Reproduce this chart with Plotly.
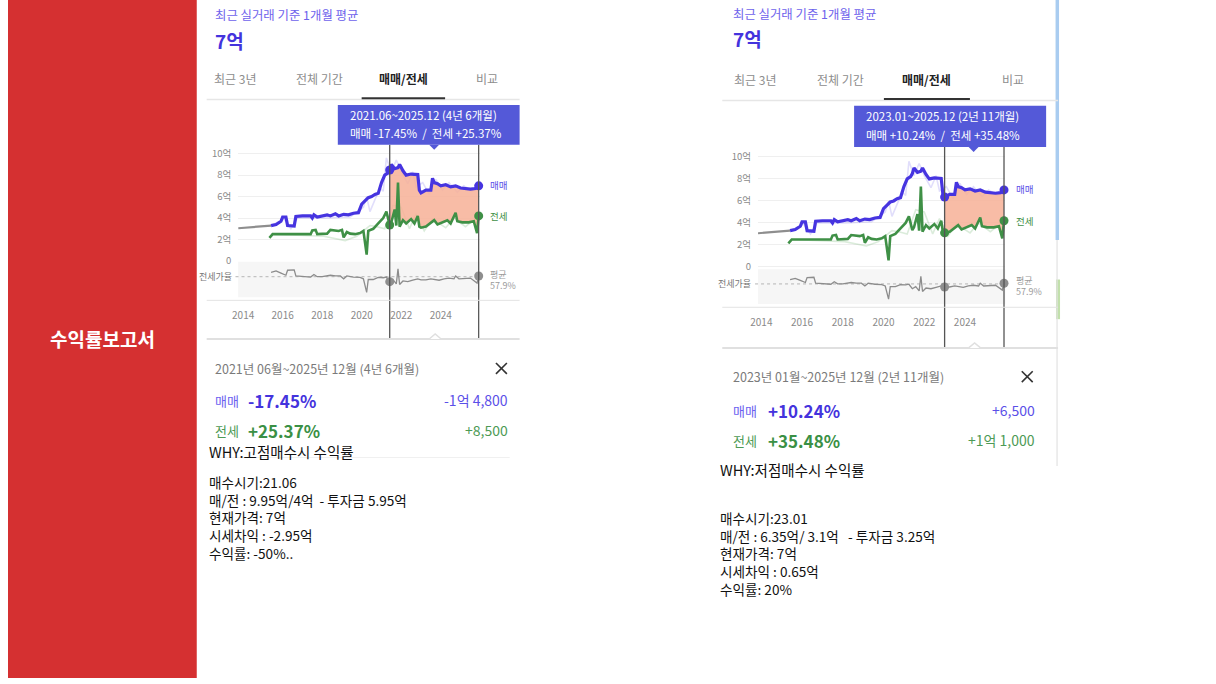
import plotly.graph_objects as go
from datetime import datetime, timedelta

W, H = 1216, 684
FONT = 'Noto Sans CJK KR'

# ---- data (price in 억, ratio in %) ----
pre_dates = ['2013-10', '2014-01', '2014-04', '2014-07', '2014-10', '2015-01', '2015-04', '2015-06']
pre_vals = [3.05, 3.08, 3.12, 3.15, 3.18, 3.2, 3.25, 3.3]

sale_dates = ['2015-06', '2015-09', '2015-12', '2016-01', '2016-03', '2016-04', '2016-08', '2016-09',
              '2017-01', '2017-06', '2017-07', '2017-08', '2017-10', '2018-01', '2018-04', '2018-06',
              '2018-09', '2018-11', '2019-02', '2019-05', '2019-08', '2019-11', '2020-01', '2020-03',
              '2020-05', '2020-07', '2020-09', '2020-11', '2021-01', '2021-03', '2021-05', '2021-06',
              '2021-07', '2021-09', '2021-11', '2021-12', '2022-02', '2022-04', '2022-07', '2022-11',
              '2022-12', '2023-01', '2023-04', '2023-07', '2023-08', '2023-09', '2023-11', '2024-01',
              '2024-04', '2024-07', '2024-10', '2025-01', '2025-04', '2025-07', '2025-10', '2025-12']
sale_vals = [3.3, 3.4, 3.7, 4.1, 4.1, 3.3, 3.25, 4.15,
             4.2, 4.2, 4.0, 4.3, 4.1, 4.2, 4.3, 4.2,
             4.4, 4.2, 4.35, 4.3, 4.45, 4.5, 5.3, 5.6,
             5.9, 6.0, 6.2, 6.3, 7.3, 8.0, 8.2, 8.48,
             9.0, 8.6, 8.7, 9.0, 8.4, 8.0, 8.1, 8.05,
             6.6, 6.35, 6.6, 6.6, 7.7, 7.3, 7.2, 7.0,
             7.1, 6.9, 7.0, 6.8, 6.75, 6.7, 6.75, 7.0]

jeonse_dates = ['2015-05', '2015-07', '2016-06', '2017-06', '2017-07', '2017-09', '2017-10', '2018-01',
                '2018-04', '2018-06', '2018-09', '2018-11', '2019-01', '2019-02', '2019-04', '2019-06',
                '2019-09', '2019-12', '2020-02', '2020-04', '2020-05', '2020-08', '2020-11', '2021-02',
                '2021-04', '2021-06', '2021-07', '2021-09', '2021-10', '2021-11', '2021-12', '2022-02',
                '2022-04', '2022-07', '2022-09', '2022-11', '2022-12', '2023-01', '2023-04', '2023-07',
                '2023-09', '2023-11', '2024-02', '2024-05', '2024-07', '2024-10', '2024-11', '2025-02',
                '2025-06', '2025-09', '2025-11', '2025-12']
jeonse_vals = [2.15, 2.5, 2.5, 2.5, 2.85, 2.9, 2.5, 2.55,
               2.55, 2.9, 2.85, 2.8, 2.9, 2.2, 2.7, 2.55,
               2.5, 2.6, 2.8, 0.6, 2.8, 3.0, 3.5, 4.0,
               4.6, 3.35, 3.6, 4.8, 3.3, 7.3, 3.2, 3.8,
               3.5, 3.9, 3.5, 4.2, 3.2, 3.1, 3.2, 3.6,
               3.8, 3.4, 3.6, 3.8, 3.5, 4.5, 3.7, 3.6,
               3.6, 3.7, 2.6, 4.2]

# faint individual-deal traces behind the monthly lines
sale_raw_dates = ['2015-06', '2016-02', '2016-06', '2016-10', '2018-03', '2019-06', '2020-02', '2020-04',
                  '2020-06', '2020-09', '2020-12', '2021-02', '2021-04', '2021-07', '2021-10', '2022-01',
                  '2022-05', '2022-08', '2022-10', '2023-02', '2023-06', '2023-10', '2024-02', '2024-06',
                  '2024-11', '2025-03', '2025-08', '2025-12']
sale_raw_vals = [3.3, 3.9, 3.0, 4.0, 4.0, 4.1, 5.0, 6.0,
                 4.6, 5.7, 6.8, 6.5, 9.6, 8.3, 9.4, 8.3,
                 7.2, 8.3, 6.9, 7.3, 6.2, 7.6, 6.6, 7.3,
                 6.4, 7.0, 6.5, 7.0]
jeonse_raw_dates = ['2015-06', '2018-02', '2019-03', '2019-10', '2020-06', '2020-10', '2021-03', '2021-08',
                    '2022-01', '2022-06', '2022-10', '2023-03', '2023-08', '2024-04', '2024-09', '2025-04',
                    '2025-12']
jeonse_raw_vals = [2.5, 2.3, 1.9, 2.3, 3.3, 3.2, 3.0, 5.2,
                   5.0, 3.0, 4.4, 2.8, 3.9, 3.1, 4.0, 3.2,
                   4.2]

ratio_dates = ['2015-06', '2015-09', '2015-12', '2016-03', '2016-04', '2016-08', '2016-09', '2017-01',
               '2017-06', '2017-08', '2017-10', '2018-01', '2018-06', '2018-09', '2018-12', '2019-02',
               '2019-04', '2019-08', '2019-12', '2020-02', '2020-04', '2020-05', '2020-08', '2020-11',
               '2021-02', '2021-04', '2021-06', '2021-08', '2021-10', '2021-11', '2021-12', '2022-02',
               '2022-05', '2022-08', '2022-11', '2023-01', '2023-04', '2023-07', '2023-09', '2023-12',
               '2024-03', '2024-06', '2024-09', '2024-10', '2024-12', '2025-03', '2025-07', '2025-11',
               '2025-12']
ratio_vals = [70, 74, 68, 62, 76, 77, 60, 58,
              57, 64, 58, 58, 62, 60, 60, 52,
              60, 57, 56, 52, 14, 50, 50, 56,
              55, 57, 44, 50, 38, 80, 36, 46,
              44, 48, 52, 49, 49, 52, 50, 48,
              52, 54, 52, 60, 52, 53, 54, 40,
              60]
avg_ratio = 57.9

year_ticks = ['2014', '2016', '2018', '2020', '2022', '2024']
price_ticks = [0, 2, 4, 6, 8, 10]
price_labels = ['0', '2억', '4억', '6억', '8억', '10억']
tab_names = ['최근 3년', '전체 기간', '매매/전세', '비교']

SALE = '#4634e0'
JEONSE = '#3f9046'
GRAY = '#8c8c8c'


def px(x):
    return x / W


def py(y):
    return 1 - y / H


def yr(v):
    y = int(v)
    d = datetime(y, 1, 1) + timedelta(days=(v - y) * 365.25)
    return d.strftime('%Y-%m-%d')


fig = go.Figure()
shapes = []
ann = []


def rect(x0, y0, x1, y1, color, layer='below'):
    shapes.append(dict(type='rect', xref='paper', yref='paper', x0=px(x0), x1=px(x1),
                       y0=py(y1), y1=py(y0), fillcolor=color, line=dict(width=0), layer=layer))


def seg(x0, y0, x1, y1, color, width=1, dash='solid'):
    shapes.append(dict(type='line', xref='paper', yref='paper', x0=px(x0), x1=px(x1),
                       y0=py(y0), y1=py(y1), line=dict(color=color, width=width, dash=dash)))


def text(x, y, s, size, color, anchor='left', bold=False):
    ann.append(dict(xref='paper', yref='paper', x=px(x), y=py(y),
                    text=f'<b>{s}</b>' if bold else s, showarrow=False,
                    xanchor=anchor, yanchor='middle', align='left',
                    font=dict(family=FONT, size=size, color=color)))


# red side panel
rect(0, 0, 190, H, '#d53031')
text(95, 341, '수익률보고서', 19, 'white', anchor='center', bold=True)

left = dict(k=1, sel=('2021-06', '2025-12'), sx0=200, sx1=515, hdr_y=15, big_y=40.7, tx=206,
            tabs=[228.3, 313.3, 398.3, 481.7], tab_y=79, ul=(356, 440, 99), sep_y=100.5,
            tip=(332, 106, 515, 146), tip_tx=342, tip_y=(116, 134), tip_pt=429,
            p2014=236.7, ppy=19.9, gx0=231.7, gx1=475,
            ptop=146, p0=263.3, ppu=10.83, rtop=264, rbot=300,
            base_y=303, div_y=342, notch=430,
            lab_x=483, lab_y=(186.7, 218.3, 276.7, 287.7), rl_x=227,
            bot_y=(371.7, 404, 434.3), amt_x=505, pct_x=240, x_x=496.7,
            why=(200, 455), block_y=522.4,
            tip_txt=['2021.06~2025.12 (4년 6개월)', '매매 -17.45%\u00a0 /\u00a0 전세 +25.37%'],
            period='2021년 06월~2025년 12월 (4년 6개월)',
            stats=['-17.45%', '-1억 4,800', '+25.37%', '+8,500'],
            why_txt='WHY:고점매수시 수익률',
            lines=['매수시기:21.06', '매/전 : 9.95억/4억\u00a0\u00a0- 투자금 5.95억', '현재가격: 7억',
                   '시세차익 : -2.95억', '수익률: -50%..'])

right = dict(k=2, sel=('2023-01', '2025-12'), sx0=719, sx1=1057, hdr_y=14, big_y=39.3, tx=727.7,
             tabs=[751.7, 838.3, 925, 1011.7], tab_y=80, ul=(881.7, 968.3, 100), sep_y=101.5,
             tip=(851.7, 106.7, 1045, 148.3), tip_tx=861.7, tip_y=(117, 136), tip_pt=972,
             p2014=758.3, ppy=20.5, gx0=755, gx1=1004,
             ptop=148.3, p0=269.3, ppu=11.1, rtop=271.7, rbot=306.7,
             base_y=310, div_y=351, notch=973,
             lab_x=1013, lab_y=(190.7, 223.3, 282.7, 293.7), rl_x=750,
             bot_y=(380, 414, 444.3), amt_x=1036, pct_x=763.3, x_x=1026,
             why=(715, 474), block_y=557.9,
             tip_txt=['2023.01~2025.12 (2년 11개월)', '매매 +10.24%\u00a0 /\u00a0 전세 +35.48%'],
             period='2023년 01월~2025년 12월 (2년 11개월)',
             stats=['+10.24%', '+6,500', '+35.48%', '+1억 1,000'],
             why_txt='WHY:저점매수시 수익률',
             lines=['매수시기:23.01', '매/전 : 6.35억/ 3.1억\u00a0\u00a0 - 투자금 3.25억', '현재가격: 7억',
                    '시세차익 : 0.65억', '수익률: 20%'])

layout_axes = {}

for g in (left, right):
    k = g['k']
    xn = 'x' if k == 1 else 'x2'
    yp = 'y' if k == 1 else 'y3'
    yq = 'y2' if k == 1 else 'y4'
    s0, s1 = g['sel']

    # axes
    d0 = yr(2014 + (g['gx0'] - g['p2014']) / g['ppy'])
    d1 = yr(2014 + (g['gx1'] - g['p2014']) / g['ppy'])
    layout_axes['xaxis' if k == 1 else 'xaxis2'] = dict(
        domain=[px(g['gx0']), px(g['gx1'])], anchor=yq, range=[d0, d1], type='date',
        tickvals=[t + '-01-01' for t in year_ticks], ticktext=year_ticks,
        showgrid=False, zeroline=False, showline=False, ticks='', ticklabelstandoff=11,
        tickfont=dict(family=FONT, size=10, color='#8a8a8a'))
    layout_axes['yaxis' if k == 1 else 'yaxis3'] = dict(
        domain=[py(g['rtop']), py(g['ptop'])], anchor=xn,
        range=[(g['p0'] - g['rtop']) / g['ppu'], (g['p0'] - g['ptop']) / g['ppu']],
        tickvals=price_ticks, ticktext=price_labels, showgrid=True, gridcolor='#efefef',
        gridwidth=1, zeroline=False, showline=False, ticks='', ticklabelstandoff=6,
        tickfont=dict(family=FONT, size=9.5, color='#8a8a8a'))
    layout_axes['yaxis2' if k == 1 else 'yaxis4'] = dict(
        domain=[py(g['rbot']), py(g['rtop'])], anchor=xn, range=[0, 100],
        showgrid=False, zeroline=False, showticklabels=False, ticks='')

    # ratio band + average line
    shapes.append(dict(type='rect', xref=xn + ' domain', yref=yq + ' domain', x0=0, x1=1, y0=0, y1=1,
                       fillcolor='#f6f6f6', line=dict(width=0), layer='below'))
    shapes.append(dict(type='line', xref='paper', yref=yq, x0=px(g['rl_x'] + 2), x1=px(g['gx1']),
                       y0=avg_ratio, y1=avg_ratio, line=dict(color='#b5b5b5', width=1, dash='dot'),
                       layer='below'))

    # traces
    sel_sale = [(d, v) for d, v in zip(sale_dates, sale_vals) if s0 <= d <= s1]
    sel_jeon = [(d, v) for d, v in zip(jeonse_dates, jeonse_vals) if s0 <= d <= s1]
    fig.add_trace(go.Scatter(x=sale_raw_dates, y=sale_raw_vals, xaxis=xn, yaxis=yp, mode='lines',
                             line=dict(color='rgba(120,105,235,0.22)', width=1.6)))
    fig.add_trace(go.Scatter(x=jeonse_raw_dates, y=jeonse_raw_vals, xaxis=xn, yaxis=yp, mode='lines',
                             line=dict(color='rgba(90,170,90,0.22)', width=1.6)))
    fig.add_trace(go.Scatter(x=pre_dates, y=pre_vals, xaxis=xn, yaxis=yp, mode='lines',
                             line=dict(color='#8e8e8e', width=2.2)))
    fig.add_trace(go.Scatter(x=[d for d, v in sel_jeon], y=[v for d, v in sel_jeon], xaxis=xn, yaxis=yp,
                             mode='lines', line=dict(width=0)))
    fig.add_trace(go.Scatter(x=[d for d, v in sel_sale], y=[v for d, v in sel_sale], xaxis=xn, yaxis=yp,
                             mode='lines', line=dict(width=0), fill='tonexty',
                             fillcolor='rgba(247,176,150,0.85)'))
    fig.add_trace(go.Scatter(x=jeonse_dates, y=jeonse_vals, xaxis=xn, yaxis=yp, mode='lines',
                             line=dict(color=JEONSE, width=2.6)))
    fig.add_trace(go.Scatter(x=sale_dates, y=sale_vals, xaxis=xn, yaxis=yp, mode='lines',
                             line=dict(color=SALE, width=3.2)))
    fig.add_trace(go.Scatter(x=ratio_dates, y=ratio_vals, xaxis=xn, yaxis=yq, mode='lines',
                             line=dict(color=GRAY, width=1.3)))

    sd = dict(zip(sale_dates, sale_vals))
    jd = dict(zip(jeonse_dates, jeonse_vals))
    rd = dict(zip(ratio_dates, ratio_vals))
    for lut, col, ax in ((sd, SALE, yp), (jd, JEONSE, yp), (rd, '#8e8e8e', yq)):
        fig.add_trace(go.Scatter(x=[s0, s1], y=[lut[s0], lut[s1]], xaxis=xn, yaxis=ax, mode='markers',
                                 marker=dict(color=col, size=9), cliponaxis=False))

    # selection lines
    for d in (s0, s1):
        shapes.append(dict(type='line', xref=xn, yref='paper', x0=d, x1=d,
                           y0=py(g['div_y']), y1=py(g['tip'][3]),
                           line=dict(color='#555555', width=1.3)))

    # header and tabs
    text(g['tx'], g['hdr_y'], '최근 실거래 기준 1개월 평균', 12.4, '#6e62ec')
    text(g['tx'], g['big_y'], '7억', 19, '#4433dd', bold=True)
    for i, (tx, name) in enumerate(zip(g['tabs'], tab_names)):
        if i == 2:
            text(tx, g['tab_y'], name, 12, '#222222', anchor='center', bold=True)
        else:
            text(tx, g['tab_y'], name, 12, '#8d8d8d', anchor='center')
    seg(g['sx0'], g['sep_y'], g['sx1'], g['sep_y'], '#e6e6e6', 1.5)
    seg(g['ul'][0], g['ul'][2], g['ul'][1], g['ul'][2], '#333333', 2)

    # tooltip
    x0, y0, x1, y1 = g['tip']
    rect(x0, y0, x1, y1, '#5459d8', layer='above')
    tp = g['tip_pt']
    shapes.append(dict(type='path', xref='paper', yref='paper', fillcolor='#5459d8',
                       line=dict(width=0), layer='above',
                       path=f'M {px(tp - 5)},{py(y1)} L {px(tp)},{py(y1 + 5)} L {px(tp + 5)},{py(y1)} Z'))
    text(g['tip_tx'], g['tip_y'][0], g['tip_txt'][0], 11.5, 'white')
    text(g['tip_tx'], g['tip_y'][1], g['tip_txt'][1], 11.5, 'white')

    # end labels
    text(g['lab_x'], g['lab_y'][0], '매매', 9.5, '#5b50e8')
    text(g['lab_x'], g['lab_y'][1], '전세', 9.5, JEONSE)
    text(g['lab_x'], g['lab_y'][2], '평균', 9, '#9a9a9a')
    text(g['lab_x'], g['lab_y'][3], f'{avg_ratio}%', 9, '#9a9a9a')
    ann.append(dict(xref='paper', yref=yq, x=px(g['rl_x']), y=avg_ratio, text='전세가율',
                    showarrow=False, xanchor='right', yanchor='middle',
                    font=dict(family=FONT, size=9, color='#777777')))

    # axis base and divider
    seg(g['sx0'], g['base_y'], g['sx1'], g['base_y'], '#e3e3e3', 1)
    seg(g['sx0'], g['div_y'], g['sx1'], g['div_y'], '#e0e0e0', 2)
    n = g['notch']
    shapes.append(dict(type='path', xref='paper', yref='paper', fillcolor='white',
                       line=dict(color='#e0e0e0', width=1.5), layer='above',
                       path=f'M {px(n - 6)},{py(g["div_y"])} L {px(n)},{py(g["div_y"] - 5)} '
                            f'L {px(n + 6)},{py(g["div_y"])}'))

    # summary
    b = g['bot_y']
    text(g['tx'], b[0], g['period'], 12.5, '#7a7a7a')
    xc = g['x_x']
    seg(xc - 5.5, b[0] - 5.5, xc + 5.5, b[0] + 5.5, '#333333', 1.6)
    seg(xc - 5.5, b[0] + 5.5, xc + 5.5, b[0] - 5.5, '#333333', 1.6)
    text(g['tx'], b[1], '매매', 13, '#6a5ff0')
    text(g['pct_x'], b[1], g['stats'][0], 17, '#4433dd', bold=True)
    text(g['amt_x'], b[1], g['stats'][1], 14, '#5b50e8', anchor='right')
    text(g['tx'], b[2], '전세', 13, '#4d9a55')
    text(g['pct_x'], b[2], g['stats'][2], 17, '#3a9045', bold=True)
    text(g['amt_x'], b[2], g['stats'][3], 14, '#4d9a55', anchor='right')

    text(g['why'][0], g['why'][1], g['why_txt'], 14.5, '#111111')
    text(g['why'][0], g['block_y'], '<br>'.join(g['lines']), 13.6, '#111111')

# faint separator under the first WHY line and right screenshot edge
seg(205, 461.5, 505, 461.5, '#f0f0f0', 1)
rect(1054.5, 0, 1058, 242, '#a9ccf0')
seg(1056, 242, 1056, 470, '#e2e2e2', 1.2)
rect(1055, 282, 1059, 322, '#c2e0ac')

fig.update_layout(width=W, height=H, margin=dict(l=0, r=0, t=0, b=0),
                  paper_bgcolor='white', plot_bgcolor='white', showlegend=False,
                  shapes=shapes, annotations=ann, font=dict(family=FONT), **layout_axes)

fig.write_html('out.html', config={'displayModeBar': False},
               post_script="document.body.style.margin='0';document.body.style.overflow='hidden';")
